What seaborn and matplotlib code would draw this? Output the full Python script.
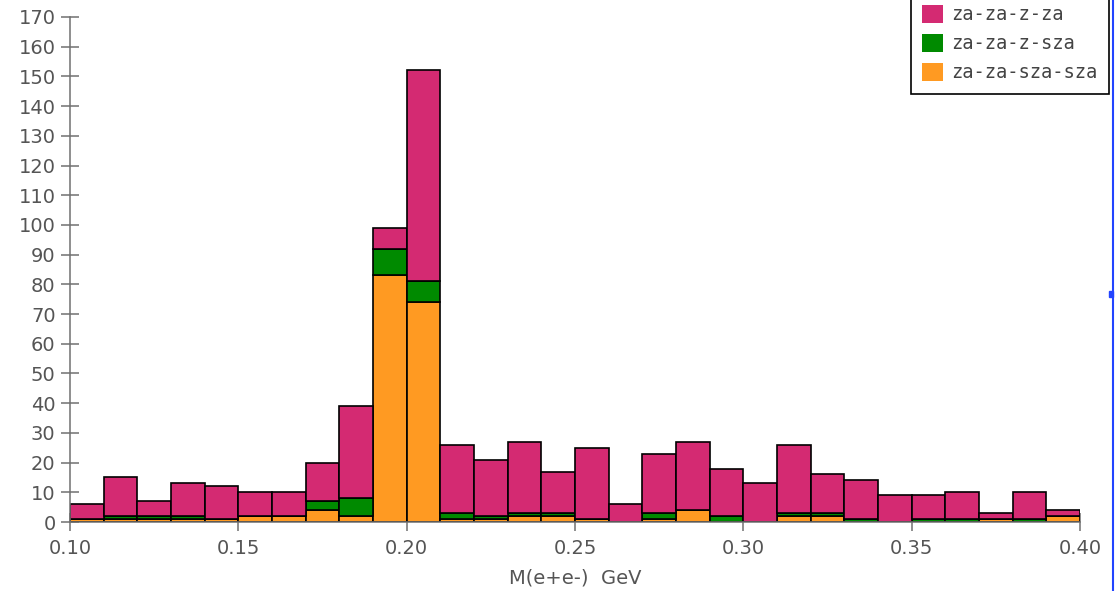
import numpy as np
import pandas as pd
import matplotlib
matplotlib.use("Agg")
import matplotlib.pyplot as plt
from matplotlib.patches import Patch, Rectangle
from matplotlib.lines import Line2D
import seaborn as sns

# Invariant-mass bins: 30 bins of 10 MeV between 0.10 and 0.40 GeV
edges = np.linspace(0.10, 0.40, 31)

series_names = ["za-za-z-za", "za-za-z-sza", "za-za-sza-sza"]

za_za_z_za = [5, 13, 5, 11, 11, 8, 8, 13, 31, 7,
              71, 23, 19, 24, 14, 24, 6, 20, 23, 16,
              13, 23, 13, 13, 9, 8, 9, 2, 9, 2]
za_za_z_sza = [0, 1, 1, 1, 0, 0, 0, 3, 6, 9,
               7, 2, 1, 1, 1, 0, 0, 2, 0, 2,
               0, 1, 1, 1, 0, 1, 1, 0, 1, 0]
za_za_sza_sza = [1, 1, 1, 1, 1, 2, 2, 4, 2, 83,
                 74, 1, 1, 2, 2, 1, 0, 1, 4, 0,
                 0, 2, 2, 0, 0, 0, 0, 1, 0, 2]

series_colors = ["#D42A72", "#008A00", "#FF9A22"]

x_ticks = [0.10, 0.15, 0.20, 0.25, 0.30, 0.35, 0.40]
y_ticks = list(range(0, 171, 10))

# Long-form table: one weighted entry per bin centre and channel
centers = (edges[:-1] + edges[1:]) / 2
frames = []
for name, counts in zip(series_names, [za_za_z_za, za_za_z_sza, za_za_sza_sza]):
    frames.append(pd.DataFrame({"mass": centers, "count": counts, "channel": name}))
df = pd.concat(frames, ignore_index=True)

sns.set_theme(style="white")
plt.rcParams["font.family"] = ["DejaVu Sans"]

W, H = 1117, 591
fig = plt.figure(figsize=(W / 100, H / 100), dpi=100)
ax = fig.add_axes([70 / W, 69 / H, 1010 / W, 505 / H])

sns.histplot(
    data=df, x="mass", weights="count", hue="channel",
    hue_order=series_names, palette=dict(zip(series_names, series_colors)),
    bins=[float(e) for e in edges], multiple="stack", element="bars",
    edgecolor="black", linewidth=1.2, alpha=1.0, legend=False, ax=ax,
)

ax.set_xlim(0.10, 0.40)
ax.set_ylim(0, 170)
ax.set_xticks(x_ticks)
ax.set_xticklabels([f"{v:.2f}" for v in x_ticks])
ax.set_yticks(y_ticks)
ax.set_ylabel("")
ax.set_xlabel("M(e+e-)  GeV", fontsize=14, color="#555555", labelpad=7.5)

sns.despine(ax=ax)
for side in ("left", "bottom"):
    ax.spines[side].set_color("#707070")
    ax.spines[side].set_linewidth(1.1)
ax.tick_params(axis="both", direction="inout", length=12.7, width=1.1,
               color="#707070", labelcolor="#555555", labelsize=14,
               bottom=True, left=True)
ax.tick_params(axis="y", pad=4)
ax.tick_params(axis="x", pad=6)

handles = [Patch(facecolor=c, edgecolor="none", label=n)
           for n, c in zip(series_names, series_colors)]
leg = fig.legend(
    handles=handles, loc="lower right",
    bbox_to_anchor=(1109 / W, 1 - 94 / H),
    prop={"family": "DejaVu Sans Mono", "size": 13.5},
    frameon=True, fancybox=False, framealpha=1.0, edgecolor="black",
    borderpad=0.62, handlelength=1.07, handleheight=1.07,
    handletextpad=0.46, labelspacing=0.53, borderaxespad=0.0,
)
leg.get_frame().set_linewidth(1.2)
for t in leg.get_texts():
    t.set_color("#444444")

# Window edge on the right
fig.add_artist(Line2D([1112.5 / W, 1112.5 / W], [0, 1], color="#2244FF",
                      lw=1.5, transform=fig.transFigure))
fig.add_artist(Rectangle((1108.5 / W, 1 - 297 / H), 4 / W, 6 / H,
                         color="#2244FF", transform=fig.transFigure))

fig.savefig("out.png", dpi=100)
